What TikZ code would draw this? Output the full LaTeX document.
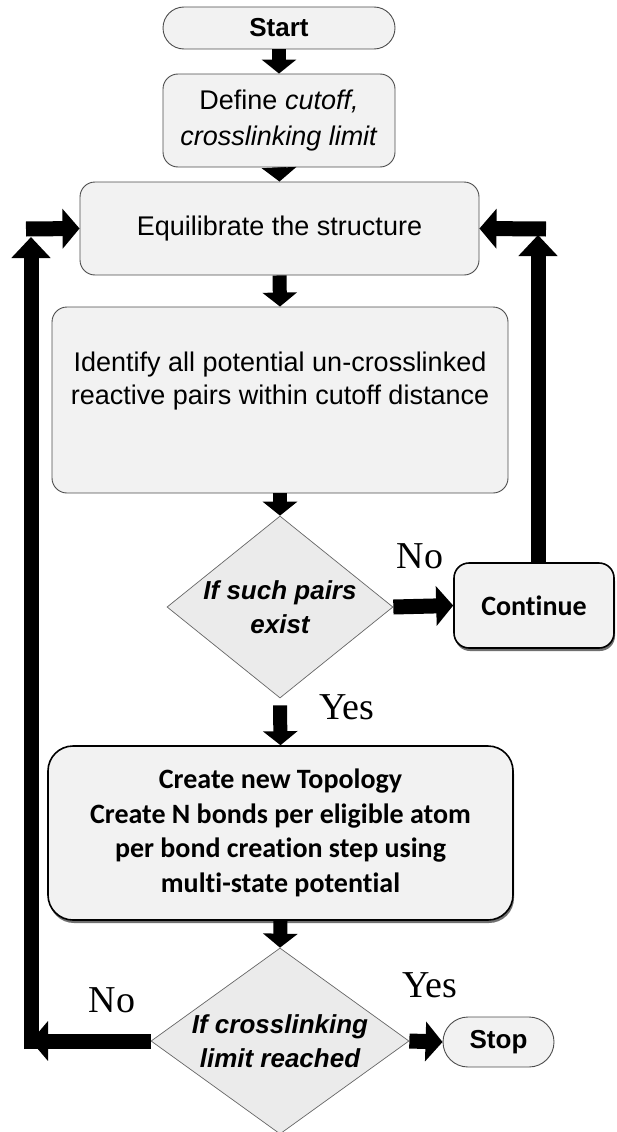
\documentclass[tikz,border=0pt]{standalone}
\usepackage{fontspec}
\setmainfont{Liberation Sans}
\newfontfamily\calibrifont{Carlito}[Ligatures=NoCommon]
\newfontfamily\timesfont{Liberation Serif}
\usetikzlibrary{shapes.geometric,arrows.meta,shadows}

\tikzset{
  processbox/.style={draw=black!70, line width=0.9pt, fill=black!5, rounded corners=15pt,
    align=center, inner sep=0pt, font=\fontsize{27}{36}\selectfont},
  terminal/.style={processbox, rounded corners=21pt, font=\fontsize{26}{30}\selectfont\bfseries},
  decision/.style={diamond, draw=black!60, line width=0.7pt, fill=black!8, inner sep=0pt},
  decisiontext/.style={align=center, font=\fontsize{26}{34}\selectfont\bfseries\itshape},
  actionbox/.style={draw=black, line width=1.6pt, fill=black!5, align=center, inner sep=0pt,
    font=\calibrifont\fontsize{28}{34.5}\selectfont\bfseries,
    drop shadow={shadow xshift=1pt, shadow yshift=-3pt, fill=black!70, opacity=0.8}},
  answer/.style={font=\timesfont\fontsize{38}{38}\selectfont},
  downarrow/.style={line width=14pt, -{Triangle[width=34pt,length=14pt]}},
  sidearrow/.style={line width=15pt, -{Triangle[width=39pt,length=17pt]}},
  returnarrow/.style={line width=15pt, -{Triangle[width=38pt,length=21pt]}}
}

\begin{document}
\begin{tikzpicture}[x=1pt, y=-1pt]
    \useasboundingbox (0,0) rectangle (616,1132);

    % Draw the boxes
    \node[terminal, minimum width=232pt, minimum height=42pt] (start) at (279,28) {Start};
    \node[processbox, minimum width=232pt, minimum height=93pt] (define) at (279,120.5)
        {Define \textit{cutoff,}\\\textit{crosslinking limit}};
    \node[processbox, minimum width=399pt, minimum height=93pt] (equil) at (279.5,228.5)
        {Equilibrate the structure};
    \node[processbox, minimum width=456pt, minimum height=186pt] (identify) at (280,400) {};
    \node[align=center, font=\fontsize{27}{33}\selectfont] (identifytext) at (280,381.5)
        {Identify all potential un-crosslinked\\reactive pairs within cutoff distance};

    % Draw the decisions
    \node[decision, minimum width=226pt, minimum height=182pt,
        label={[decisiontext]center:If such pairs\\exist}] (pairs) at (280,607) {};
    \node[actionbox, rounded corners=15pt, minimum width=160pt, minimum height=85pt] (continue)
        at (534,605.5) {Continue};
    \node[actionbox, rounded corners=25pt, minimum width=465pt, minimum height=174pt] (create)
        at (280.5,833) {Create new Topology\\Create N bonds per eligible atom\\per bond creation step using\\multi-state potential};
    \node[decision, minimum width=258pt, minimum height=186pt,
        label={[decisiontext]center:If crosslinking\\limit reached}] (limit) at (280,1041) {};
    \node[terminal, minimum width=111pt, minimum height=50pt, rounded corners=25pt] (stop)
        at (498.5,1042) {Stop};

    % Add the answers
    \node[answer] (nopairs) at (420,556) {No};
    \node[answer] (yespairs) at (347,707) {Yes};
    \node[answer] (nolimit) at (112,1000) {No};
    \node[answer] (yeslimit) at (430,985) {Yes};

    % Draw the main flow
    \foreach \a/\b in {start/define, define/equil, equil/identify, identify/pairs, create/limit}
        \draw[downarrow] (\a.south) -- (\b.north);
    \draw[downarrow] ([yshift=-7pt]pairs.south) -- (create.north);
    \draw[sidearrow] (pairs.east) -- (continue.west);
    \draw[sidearrow] (limit.east) -- (stop.west);

    % Draw the loops back
    \coordinate (lcorner) at (31,1041);
    \coordinate (ltip) at (31,237);
    \coordinate (lstub) at (26,229);
    \coordinate (rtip) at (538,235);
    \coordinate (rstub) at (546,229);
    \draw[sidearrow] (limit.west) -- (lcorner);
    \draw[returnarrow] ([yshift=-8pt]lcorner) -- (ltip);
    \draw[sidearrow] (lstub) -- (equil.west);
    \draw[returnarrow] (rtip |- continue.north) -- (rtip);
    \draw[sidearrow] (rstub) -- (equil.east);

\end{tikzpicture}
\end{document}
